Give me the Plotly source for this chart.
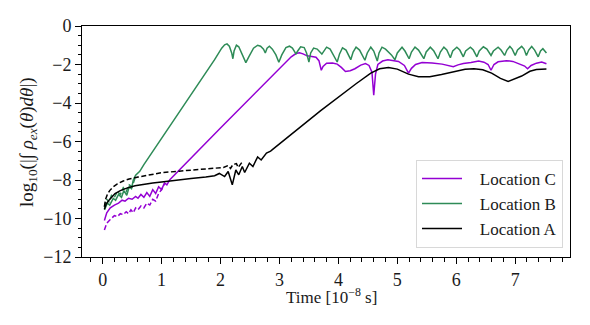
import plotly.graph_objects as go

# ---- data (time in 1e-8 s, log10 values) ----
c_x = [0.03, 0.07, 0.13, 0.2, 0.27, 0.33, 0.38, 0.44, 0.5, 0.56, 0.6, 0.65, 0.7, 0.75, 0.8, 0.85, 0.9, 0.95,
       1.0, 1.05, 1.09, 1.14, 2.0, 3.0, 3.2, 3.28, 3.34, 3.4, 3.47, 3.55, 3.62, 3.67, 3.71, 3.74, 3.8, 3.9,
       3.98, 4.05, 4.12, 4.2, 4.28, 4.38, 4.46, 4.52, 4.57, 4.6, 4.63, 4.67, 4.75, 4.84, 4.92, 5.02, 5.12,
       5.19, 5.24, 5.31, 5.42, 5.59, 5.76, 5.87, 5.95, 6.03, 6.12, 6.25, 6.38, 6.47, 6.54, 6.59, 6.64, 6.71,
       6.85, 6.96, 7.08, 7.16, 7.21, 7.27, 7.36, 7.45, 7.53]
c_y = [-10.1, -9.7, -9.45, -9.3, -9.2, -9.05, -9.1, -8.95, -9.0, -8.85, -8.95, -8.75, -8.9, -8.65, -8.85,
       -8.5, -8.7, -8.35, -8.5, -8.15, -8.25, -7.98, -5.3, -2.2, -1.6, -1.43, -1.39, -1.45, -1.55, -1.58,
       -1.62, -1.8, -2.3, -2.1, -1.93, -1.92, -1.98, -2.15, -2.36, -2.32, -2.22, -2.03, -1.95, -2.05, -2.4,
       -3.6, -2.5, -2.0, -1.82, -1.76, -1.78, -1.84, -2.05, -2.45, -2.2, -2.0, -1.9, -1.92, -1.98, -2.05,
       -2.12, -2.02, -1.95, -1.9, -1.82, -1.88, -2.0, -2.3, -2.0, -1.86, -1.8, -1.84, -1.96, -2.08, -2.22,
       -2.05, -1.93, -1.87, -1.96]
c_dash_x = [0.03, 0.07, 0.13, 0.2, 0.25, 0.3, 0.35, 0.4, 0.44, 0.48, 0.52, 0.56, 0.6, 0.65, 0.7, 0.75, 0.8,
            0.85, 0.9, 0.95, 1.0, 1.05]
c_dash_y = [-10.6, -10.25, -10.05, -9.85, -9.9, -9.75, -9.8, -9.65, -9.75, -9.55, -9.7, -9.45, -9.55,
            -9.35, -9.45, -9.2, -9.3, -9.0, -9.1, -8.7, -8.5, -8.2]

b_x = [0.03, 0.08, 0.12, 0.18, 0.22, 0.27, 0.32, 0.36, 0.41, 0.45, 0.49, 0.52, 0.56, 0.63, 0.7, 1.0, 1.5,
       1.9, 2.02, 2.07, 2.11, 2.15, 2.19, 2.21, 2.23, 2.27, 2.31, 2.37, 2.43, 2.48, 2.56, 2.63, 2.68, 2.73,
       2.76, 2.79, 2.83, 2.88, 2.94, 2.99, 3.04, 3.11, 3.17, 3.22, 3.28, 3.31, 3.36, 3.42, 3.46, 3.5, 3.53,
       3.58, 3.64, 3.72, 3.75, 3.8, 3.86, 3.93, 3.98, 4.02, 4.07, 4.13, 4.21, 4.25, 4.3, 4.36, 4.45, 4.49,
       4.55, 4.6, 4.66, 4.69, 4.74, 4.8, 4.9, 4.96, 5.0, 5.08, 5.13, 5.2, 5.24, 5.3, 5.36, 5.45, 5.49, 5.56,
       5.62, 5.69, 5.73, 5.79, 5.84, 5.9, 5.94, 6.01, 6.06, 6.12, 6.16, 6.24, 6.29, 6.35, 6.39, 6.46, 6.52,
       6.59, 6.63, 6.71, 6.76, 6.82, 6.86, 6.91, 6.95, 7.0, 7.04, 7.11, 7.15, 7.19, 7.23, 7.28, 7.33, 7.39,
       7.43, 7.47, 7.53]
b_y = [-9.55, -9.2, -9.3, -8.95, -9.05, -8.75, -8.9, -8.55, -8.8, -8.35, -8.45, -8.0, -7.75, -7.55, -7.2,
       -5.85, -3.6, -1.75, -1.15, -0.98, -0.93, -1.05, -1.4, -1.7, -1.3, -1.0, -1.08, -1.45, -1.9, -1.6,
       -1.15, -1.0, -1.05, -1.2, -1.4, -1.15, -1.05, -1.2, -1.5, -1.88, -1.5, -1.12, -1.05, -1.15, -1.45,
       -1.3, -1.08, -1.12, -1.4, -1.87, -1.4, -1.15, -1.2, -1.46, -1.3, -1.1, -1.2, -1.55, -1.87, -1.45,
       -1.13, -1.25, -1.75, -1.35, -1.1, -1.25, -1.78, -1.4, -1.1, -1.3, -1.82, -1.4, -1.1, -1.2, -1.5,
       -1.75, -1.4, -1.1, -1.3, -1.7, -1.35, -1.1, -1.25, -1.7, -1.35, -1.1, -1.3, -1.7, -1.35, -1.1,
       -1.25, -1.65, -1.3, -1.1, -1.25, -1.6, -1.3, -1.1, -1.25, -1.6, -1.3, -1.08, -1.2, -1.53, -1.3,
       -1.1, -1.25, -1.53, -1.25, -1.06, -1.2, -1.53, -1.25, -1.06, -1.2, -1.53, -1.25, -1.06, -1.25,
       -1.6, -1.3, -1.18, -1.4]
b_dash_x = [0.03, 0.07, 0.11, 0.15, 0.2, 0.25, 0.3, 0.35, 0.4, 0.45, 0.5, 0.55]
b_dash_y = [-9.4, -9.0, -9.15, -8.8, -8.9, -8.6, -8.75, -8.4, -8.6, -8.25, -8.35, -7.9]

a_x = [0.03, 0.06, 0.1, 0.15, 0.21, 0.3, 0.41, 0.55, 0.69, 0.85, 1.0, 1.25, 1.5, 1.75, 1.9, 1.98, 2.03,
       2.07, 2.13, 2.2, 2.26, 2.31, 2.37, 2.41, 2.49, 2.55, 2.63, 2.69, 2.78, 2.85, 2.89, 2.95, 3.0, 3.7,
       4.3, 4.55, 4.7, 4.85, 5.0, 5.19, 5.36, 5.55, 5.75, 5.98, 6.15, 6.3, 6.45, 6.6, 6.75, 6.88, 7.0,
       7.11, 7.25, 7.36, 7.53]
a_y = [-9.52, -9.25, -9.08, -8.88, -8.7, -8.55, -8.42, -8.3, -8.22, -8.15, -8.1, -8.0, -7.92, -7.84,
       -7.78, -7.66, -7.74, -7.82, -7.56, -8.25, -7.48, -7.73, -7.3, -7.61, -7.13, -7.3, -6.8, -6.96,
       -6.6, -6.5, -6.4, -6.25, -6.12, -4.4, -3.0, -2.45, -2.22, -2.16, -2.24, -2.5, -2.63, -2.63, -2.52,
       -2.38, -2.25, -2.22, -2.27, -2.45, -2.72, -2.88, -2.75, -2.6, -2.35, -2.26, -2.24]
a_dash_x = [0.03, 0.05, 0.08, 0.12, 0.17, 0.25, 0.35, 0.45, 0.6, 0.75, 1.0, 1.3, 1.6, 1.9, 2.05, 2.13,
            2.17, 2.21, 2.27, 2.3, 2.36]
a_dash_y = [-9.38, -9.0, -8.75, -8.55, -8.38, -8.2, -8.05, -7.95, -7.85, -7.75, -7.62, -7.54, -7.47,
            -7.4, -7.35, -7.25, -7.4, -7.2, -7.15, -7.35, -7.1]

x_ticks = [0, 1, 2, 3, 4, 5, 6, 7]
y_ticks = [0, -2, -4, -6, -8, -10, -12]
x_title = "Time [10<sup>−8</sup> s]"
y_title = "log<sub>10</sub>(|∫ <i>ρ</i><sub><i>ex</i></sub>(<i>θ</i>)<i>dθ</i>|)"

PURPLE = "#9400D3"
GREEN = "#2E8B57"
BLACK = "#000000"
LW = 1.5
DASH = "5px,2.5px"
FONT = "Liberation Serif, DejaVu Serif, serif"
TXT = "#1a1a1a"

fig = go.Figure()
fig.add_trace(go.Scatter(x=c_x, y=c_y, mode="lines", name="   Location C",
                         line=dict(color=PURPLE, width=LW)))
fig.add_trace(go.Scatter(x=c_dash_x, y=c_dash_y, mode="lines", showlegend=False,
                         line=dict(color=PURPLE, width=LW, dash=DASH)))
fig.add_trace(go.Scatter(x=b_x, y=b_y, mode="lines", name="   Location B",
                         line=dict(color=GREEN, width=LW)))
fig.add_trace(go.Scatter(x=b_dash_x, y=b_dash_y, mode="lines", showlegend=False,
                         line=dict(color=GREEN, width=LW, dash=DASH)))
fig.add_trace(go.Scatter(x=a_x, y=a_y, mode="lines", name="   Location A",
                         line=dict(color=BLACK, width=LW)))
fig.add_trace(go.Scatter(x=a_dash_x, y=a_dash_y, mode="lines", showlegend=False,
                         line=dict(color=BLACK, width=LW, dash=DASH)))

axis_common = dict(showline=True, linecolor="black", linewidth=1, mirror=True,
                   ticks="outside", ticklen=6, tickwidth=1.2, tickcolor="black",
                   showgrid=False, zeroline=False, automargin=False,
                   tickfont=dict(family=FONT, size=18, color=TXT))

fig.update_xaxes(range=[-0.35, 7.93], tickvals=x_ticks, ticktext=[str(v) for v in x_ticks],
                 minor=dict(ticks="outside", ticklen=3.5, tickwidth=1, tickcolor="black", dtick=0.2,
                            tick0=0, showgrid=False),
                 **axis_common)
fig.update_yaxes(range=[-12, 0], tickvals=y_ticks,
                 ticktext=["0" if v == 0 else "−" + str(-v) for v in y_ticks],
                 minor=dict(ticks="outside", ticklen=3.5, tickwidth=1, tickcolor="black", dtick=0.5,
                            tick0=0, showgrid=False),
                 **axis_common)

# page body has an 8px default margin, so the plot box is placed 8px up/left in figure coords
fig.add_annotation(text=x_title, xref="paper", yref="paper", x=(331 - 82) / 488, y=-(297 - 257.5) / 232,
                   xanchor="center", yanchor="middle", showarrow=False,
                   font=dict(family=FONT, size=17, color=TXT))
fig.add_annotation(text=y_title, xref="paper", yref="paper", x=-(82 - 28) / 488, y=(257.5 - 142) / 232,
                   xanchor="center", yanchor="middle", showarrow=False, textangle=-90,
                   font=dict(family=FONT, size=19, color=TXT))

fig.update_layout(
    width=590, height=325,
    margin=dict(l=74, r=28, t=17.5, b=75.5),
    paper_bgcolor="white", plot_bgcolor="white",
    showlegend=True,
    legend=dict(x=(416 - 82) / 488, y=(257.5 - 248.3) / 232, xanchor="left", yanchor="bottom",
                bgcolor="rgba(255,255,255,0.9)", bordercolor="#d8d8d8", borderwidth=1,
                font=dict(family=FONT, size=17, color=TXT), tracegroupgap=0,
                itemwidth=40),
)

fig.write_html("out.html")
